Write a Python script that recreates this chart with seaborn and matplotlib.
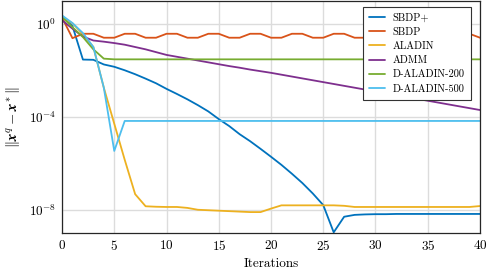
import numpy as np
import pandas as pd
import matplotlib
matplotlib.use("Agg")
import matplotlib.pyplot as plt
import seaborn as sns

# iterations 0..40, values given as log10 of the error
iters = list(range(41))

sbdp_plus = [0.32, -0.1, -1.54, -1.55, -1.75, -1.85, -2.0, -2.17, -2.36, -2.56,
             -2.8, -3.02, -3.25, -3.5, -3.77, -4.1, -4.4, -4.75, -5.05, -5.38,
             -5.72, -6.07, -6.45, -6.85, -7.3, -7.8, -8.97, -8.3, -8.22, -8.2,
             -8.19, -8.19, -8.18, -8.18, -8.18, -8.18, -8.18, -8.18, -8.18, -8.18, -8.18]

sbdp = [0.27, -0.62, -0.43, -0.43, -0.6, -0.6, -0.43, -0.43, -0.6, -0.6,
        -0.43, -0.43, -0.6, -0.6, -0.43, -0.43, -0.6, -0.6, -0.43, -0.43,
        -0.6, -0.6, -0.43, -0.43, -0.6, -0.6, -0.43, -0.43, -0.6, -0.6,
        -0.43, -0.43, -0.6, -0.6, -0.43, -0.43, -0.6, -0.6, -0.43, -0.43, -0.6]

aladin = [0.3, 0.02, -0.45, -1.0, -2.75, -4.3, -5.85, -7.33, -7.85, -7.87,
          -7.88, -7.88, -7.92, -8.0, -8.02, -8.04, -8.06, -8.08, -8.1, -8.1,
          -7.95, -7.81, -7.81, -7.81, -7.81, -7.81, -7.81, -7.83, -7.88, -7.88,
          -7.88, -7.88, -7.88, -7.88, -7.88, -7.88, -7.88, -7.88, -7.88, -7.88, -7.84]

admm = [0.15, -0.21, -0.55, -0.72, -0.77, -0.83, -0.9, -1.0, -1.1, -1.22,
        -1.34, -1.42, -1.5, -1.58, -1.66, -1.74, -1.82, -1.89, -1.97, -2.04,
        -2.11, -2.19, -2.27, -2.35, -2.43, -2.51, -2.59, -2.67, -2.75, -2.83,
        -2.91, -2.99, -3.07, -3.15, -3.23, -3.31, -3.39, -3.47, -3.55, -3.63, -3.71]

daladin_200 = [0.3, -0.15, -0.57, -1.1, -1.5] + [-1.53] * 36

daladin_500 = [0.36, 0.03, -0.4, -1.0, -2.75, -5.47] + [-4.18] * 35

names = ["SBDP+", "SBDP", "ALADIN", "ADMM", "D-ALADIN-200", "D-ALADIN-500"]
colors = ["#0072BD", "#D95319", "#EDB120", "#7E2F8E", "#77AC30", "#4DBEEE"]
series = [sbdp_plus, sbdp, aladin, admm, daladin_200, daladin_500]

frames = []
for name, vals in zip(names, series):
    frames.append(pd.DataFrame({"iter": iters, "err": 10.0 ** np.array(vals), "method": name}))
df = pd.concat(frames, ignore_index=True)

sns.set_style("whitegrid")
plt.rcParams["font.family"] = ["cmr10", "DejaVu Serif"]
plt.rcParams["mathtext.fontset"] = "cm"
plt.rcParams["axes.formatter.use_mathtext"] = True
plt.rcParams["text.color"] = "black"
plt.rcParams["axes.labelcolor"] = "black"
plt.rcParams["xtick.color"] = "black"
plt.rcParams["ytick.color"] = "black"

fig = plt.figure(figsize=(4.93, 2.74), dpi=100)
ax = fig.add_axes([0.1258, 0.1496, 0.8478, 0.8485])

sns.lineplot(data=df, x="iter", y="err", hue="method", hue_order=names,
             palette=dict(zip(names, colors)), linewidth=1.3, ax=ax)

ax.set_yscale("log")
ax.set_xlim(0, 40)
ax.set_ylim(1e-9, 1e1)
ax.set_xticks(range(0, 41, 5))
ax.set_yticks([1e-8, 1e-4, 1e0])
ax.minorticks_off()
ax.grid(True, color="#dcdcdc", linewidth=1.0)
ax.tick_params(length=0, labelsize=9.5, pad=4)
for s in ax.spines.values():
    s.set_color("#262626")
    s.set_linewidth(0.9)

ax.set_xlabel("Iterations", fontsize=9.5, labelpad=4)
ax.set_ylabel(r"$\|\mathbfit{x}^q-\mathbfit{x}^*\|$", fontsize=10.5, labelpad=5)

leg = ax.legend(loc="upper right", bbox_to_anchor=(0.99, 0.995), fontsize=7.5,
                frameon=True, fancybox=False, handlelength=1.5, borderpad=0.6,
                labelspacing=0.45, handletextpad=0.7)
leg.get_frame().set_edgecolor("#333333")
leg.get_frame().set_linewidth(0.8)
leg.get_frame().set_alpha(1)
for t in leg.get_texts():
    t.set_color("black")

fig.savefig("out.png", dpi=100)
